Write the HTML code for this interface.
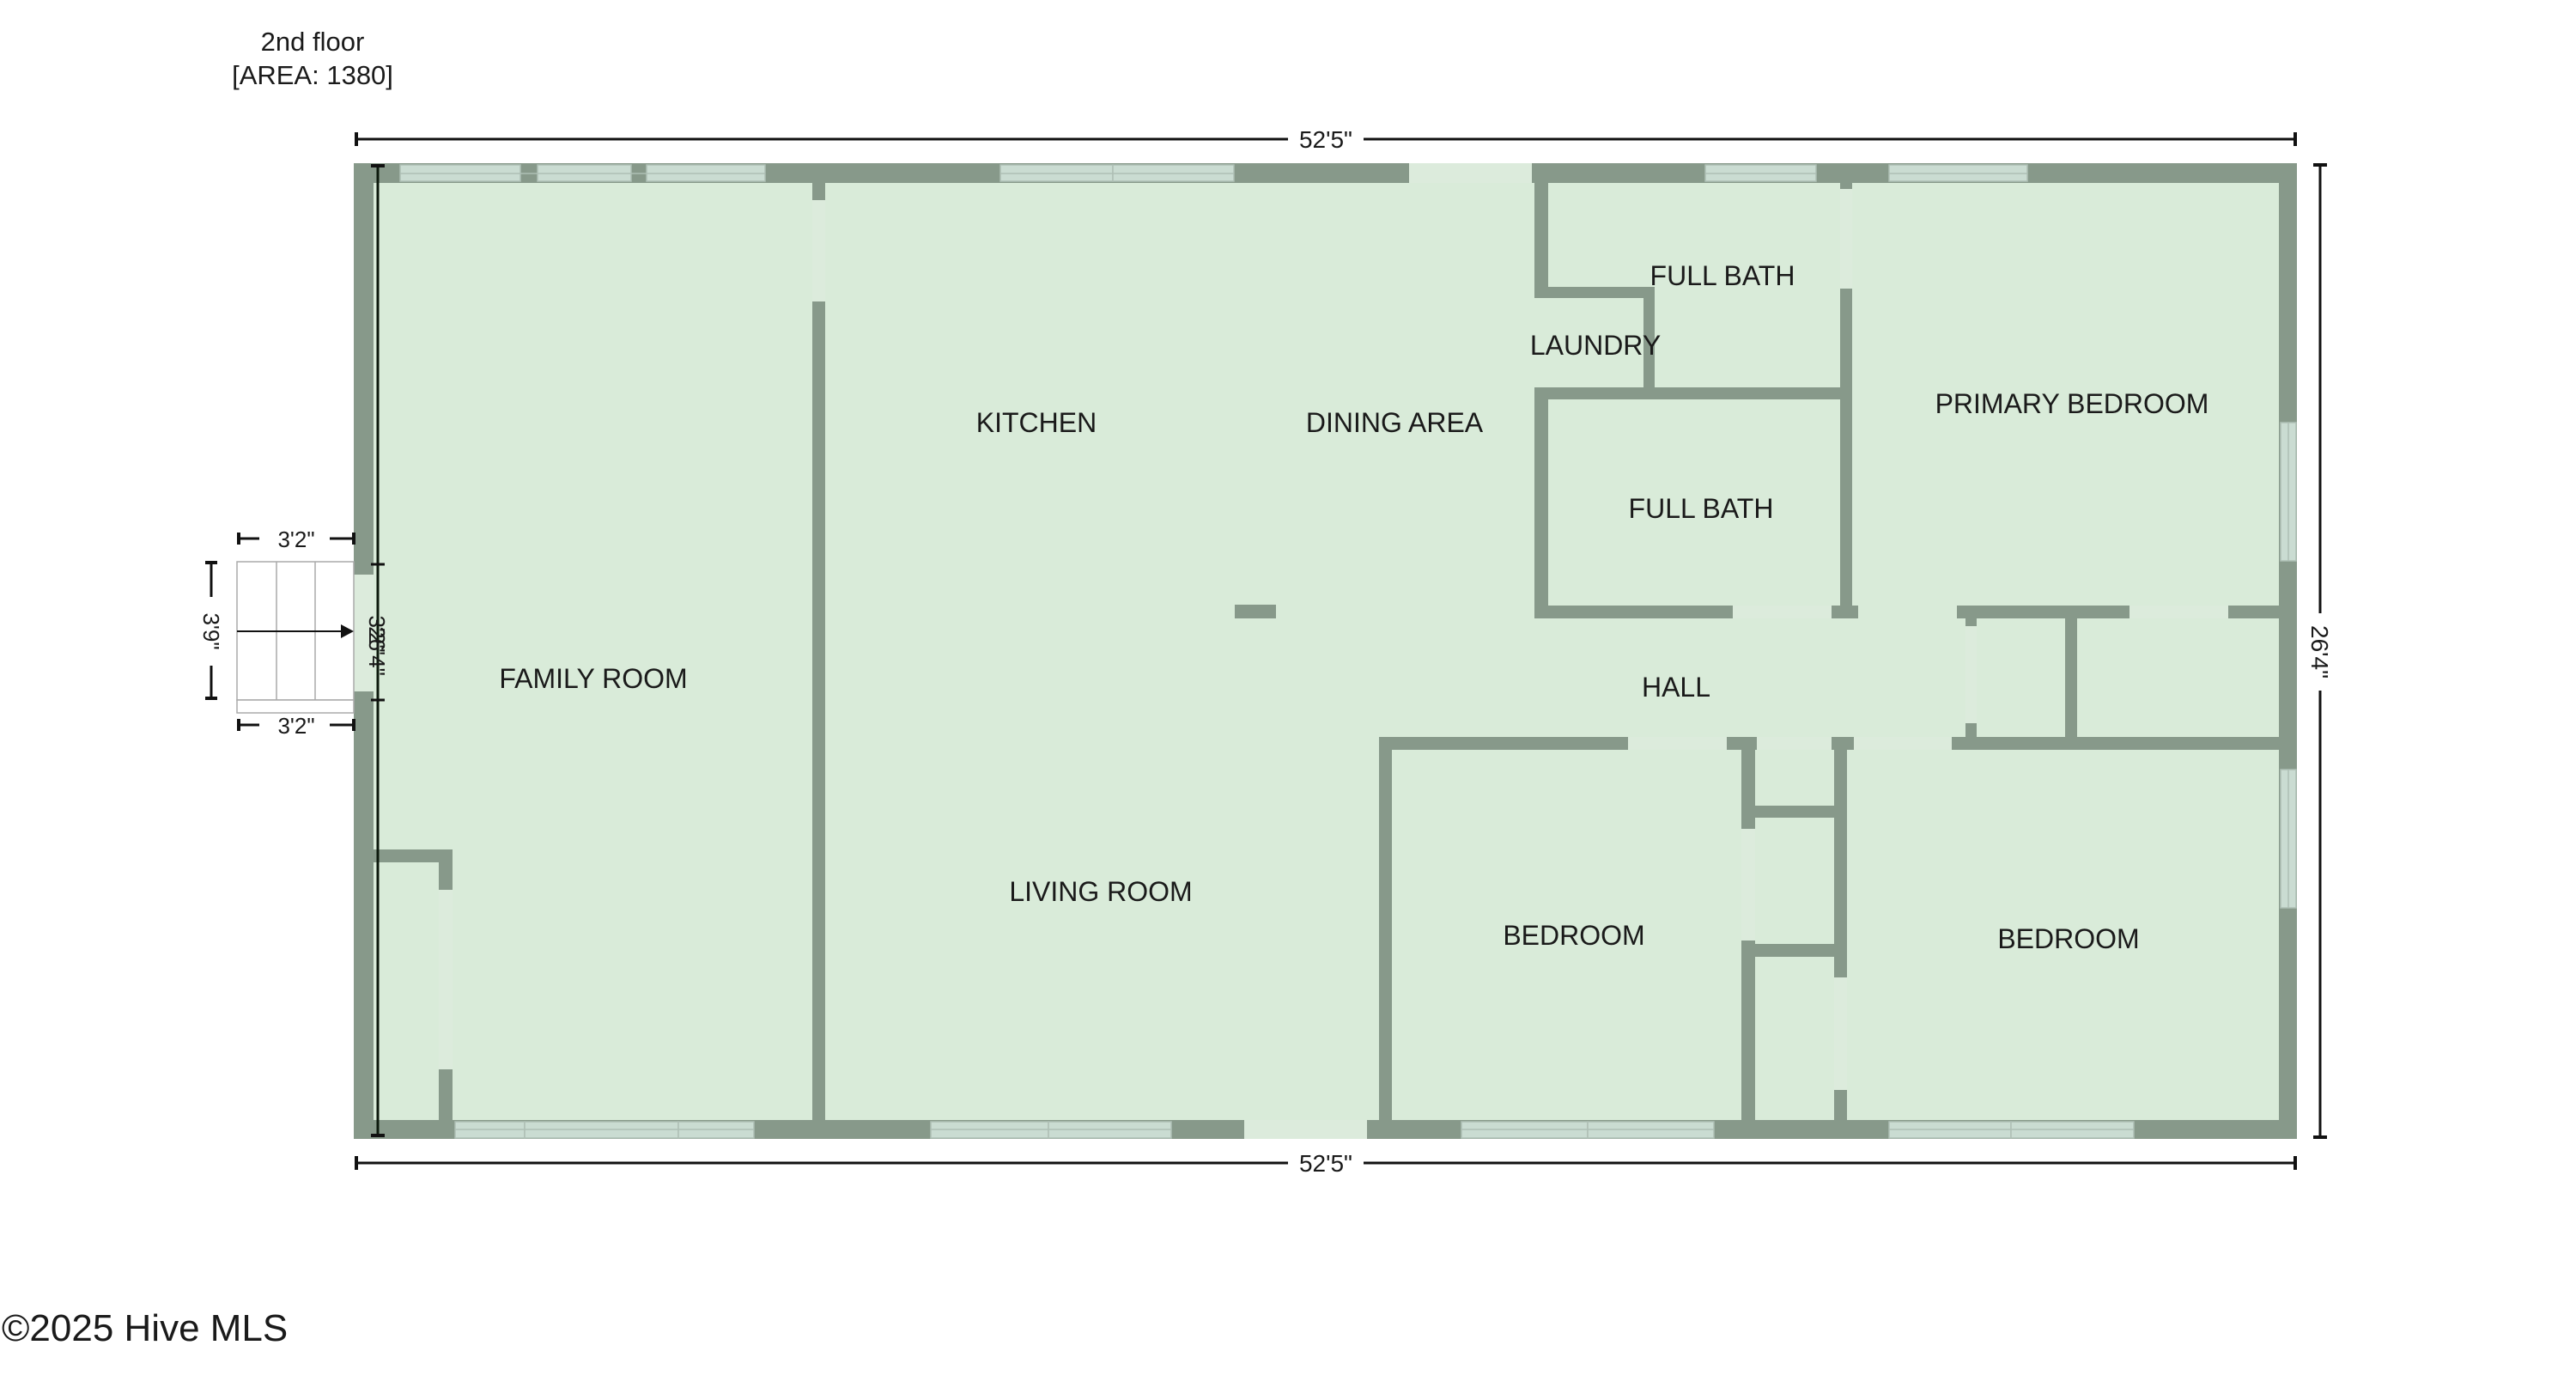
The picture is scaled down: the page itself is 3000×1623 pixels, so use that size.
<!DOCTYPE html>
<html><head><meta charset="utf-8"><style>
html,body{margin:0;padding:0;background:#fff;}
svg{display:block;}
text{font-family:"Liberation Sans",sans-serif;fill:#1a1a1a;}
</style></head><body>
<svg width="3000" height="1623" viewBox="0 0 3000 1623" xmlns="http://www.w3.org/2000/svg">
<text x="364" y="59" font-size="31" text-anchor="middle">2nd floor</text>
<text x="364" y="98" font-size="31" text-anchor="middle">[AREA: 1380]</text>

<line x1="415" y1="162" x2="2673" y2="162" stroke="#111" stroke-width="3"/>
<line x1="415" y1="154" x2="415" y2="170" stroke="#111" stroke-width="4"/>
<line x1="2673" y1="154" x2="2673" y2="170" stroke="#111" stroke-width="4"/>
<rect x="1500" y="145" width="88" height="34" fill="#fff"/>
<text x="1544" y="172" font-size="28" text-anchor="middle">52'5"</text>

<line x1="415" y1="1354" x2="2673" y2="1354" stroke="#111" stroke-width="3"/>
<line x1="415" y1="1346" x2="415" y2="1362" stroke="#111" stroke-width="4"/>
<line x1="2673" y1="1346" x2="2673" y2="1362" stroke="#111" stroke-width="4"/>
<rect x="1500" y="1337" width="88" height="34" fill="#fff"/>
<text x="1544" y="1364" font-size="28" text-anchor="middle">52'5"</text>

<line x1="2702" y1="192" x2="2702" y2="1324" stroke="#111" stroke-width="3"/>
<line x1="2694" y1="192" x2="2710" y2="192" stroke="#111" stroke-width="4"/>
<line x1="2694" y1="1324" x2="2710" y2="1324" stroke="#111" stroke-width="4"/>
<rect x="2685" y="714" width="34" height="90" fill="#fff"/>
<text x="0" y="0" font-size="28" text-anchor="middle" transform="translate(2692,759) rotate(90)">26'4"</text>

<rect x="412" y="190" width="2263" height="1136" fill="#87998a"/>
<rect x="435" y="213" width="2219" height="1091" fill="#d9ebd9"/>

<g fill="#87998a">
<rect x="946" y="213" width="15" height="1091"/>
<rect x="435" y="989" width="92" height="15"/>
<rect x="511" y="989" width="16" height="315"/>
<rect x="1438" y="704" width="48" height="16"/>
<rect x="1787" y="213" width="16" height="134"/>
<rect x="1787" y="334" width="140" height="13"/>
<rect x="1914" y="334" width="13" height="131"/>
<rect x="1787" y="451" width="370" height="14"/>
<rect x="1787" y="451" width="16" height="269"/>
<rect x="1787" y="705" width="231" height="15"/>
<rect x="2133" y="705" width="31" height="15"/>
<rect x="2143" y="213" width="14" height="507"/>
<rect x="2279" y="705" width="201" height="15"/>
<rect x="2595" y="705" width="59" height="15"/>
<rect x="2289" y="705" width="13" height="153"/>
<rect x="2405" y="720" width="14" height="153"/>
<rect x="1606" y="858" width="1048" height="15"/>
<rect x="1606" y="858" width="15" height="446"/>
<rect x="2028" y="858" width="16" height="446"/>
<rect x="2136" y="858" width="15" height="446"/>
<rect x="2028" y="938" width="123" height="14"/>
<rect x="2028" y="1099" width="123" height="15"/>
</g>

<g fill="#dcebdc">
<rect x="946" y="233" width="15" height="118"/>
<rect x="511" y="1036" width="16" height="209"/>
<rect x="2143" y="220" width="14" height="116"/>
<rect x="2289" y="729" width="13" height="113"/>
<rect x="1896" y="858" width="115" height="15"/>
<rect x="2046" y="858" width="87" height="15"/>
<rect x="2159" y="858" width="114" height="15"/>
<rect x="2028" y="965" width="16" height="130"/>
<rect x="2136" y="1138" width="15" height="131"/>
<rect x="2018" y="705" width="115" height="15"/>
<rect x="2480" y="705" width="115" height="15"/>
<rect x="1641" y="190" width="143" height="23"/>
<rect x="1449" y="1304" width="143" height="22"/>
<rect x="412" y="669" width="23" height="136"/>
</g>

<g fill="#cadcd2" stroke="#aebfb5" stroke-width="1.5">
<rect x="466" y="192" width="140" height="19"/>
<rect x="626" y="192" width="109" height="19"/>
<rect x="753" y="192" width="138" height="19"/>
<rect x="1165" y="192" width="131" height="19"/>
<rect x="1296" y="192" width="141" height="19"/>
<rect x="1986" y="192" width="129" height="19"/>
<rect x="2200" y="192" width="161" height="19"/>
<rect x="530" y="1306" width="81" height="19"/>
<rect x="611" y="1306" width="179" height="19"/>
<rect x="790" y="1306" width="88" height="19"/>
<rect x="1084" y="1306" width="137" height="19"/>
<rect x="1221" y="1306" width="143" height="19"/>
<rect x="1702" y="1306" width="147" height="19"/>
<rect x="1849" y="1306" width="147" height="19"/>
<rect x="2200" y="1306" width="142" height="19"/>
<rect x="2342" y="1306" width="143" height="19"/>
<rect x="2656" y="492" width="18" height="161"/>
<rect x="2656" y="896" width="18" height="161"/>
</g>
<g stroke="#aebfb5" stroke-width="1.5">
<line x1="466" y1="202" x2="891" y2="202"/><line x1="1165" y1="202" x2="1437" y2="202"/>
<line x1="1986" y1="202" x2="2115" y2="202"/><line x1="2200" y1="202" x2="2361" y2="202"/>
<line x1="530" y1="1315" x2="878" y2="1315"/><line x1="1084" y1="1315" x2="1364" y2="1315"/>
<line x1="1702" y1="1315" x2="1996" y2="1315"/><line x1="2200" y1="1315" x2="2485" y2="1315"/>
<line x1="2665" y1="492" x2="2665" y2="653"/><line x1="2665" y1="896" x2="2665" y2="1057"/>
</g>

<rect x="276" y="654" width="136" height="161" fill="#fff" stroke="#aaa" stroke-width="1.5"/>
<rect x="276" y="815" width="136" height="15" fill="#fff" stroke="#aaa" stroke-width="1.5"/>
<line x1="322" y1="654" x2="322" y2="815" stroke="#aaa" stroke-width="1.5"/>
<line x1="367" y1="654" x2="367" y2="815" stroke="#aaa" stroke-width="1.5"/>
<line x1="276" y1="735" x2="400" y2="735" stroke="#111" stroke-width="2"/>
<polygon points="397,727 412,735 397,743" fill="#111"/>

<line x1="278" y1="627" x2="302" y2="627" stroke="#111" stroke-width="3"/>
<line x1="384" y1="627" x2="412" y2="627" stroke="#111" stroke-width="3"/>
<line x1="278" y1="620" x2="278" y2="634" stroke="#111" stroke-width="4"/>
<line x1="412" y1="620" x2="412" y2="634" stroke="#111" stroke-width="4"/>
<text x="345" y="637" font-size="26" text-anchor="middle">3'2"</text>
<line x1="278" y1="844" x2="302" y2="844" stroke="#111" stroke-width="3"/>
<line x1="384" y1="844" x2="412" y2="844" stroke="#111" stroke-width="3"/>
<line x1="278" y1="837" x2="278" y2="851" stroke="#111" stroke-width="4"/>
<line x1="412" y1="837" x2="412" y2="851" stroke="#111" stroke-width="4"/>
<text x="345" y="854" font-size="26" text-anchor="middle">3'2"</text>
<line x1="246" y1="655" x2="246" y2="695" stroke="#111" stroke-width="3"/>
<line x1="246" y1="775" x2="246" y2="813" stroke="#111" stroke-width="3"/>
<line x1="239" y1="655" x2="253" y2="655" stroke="#111" stroke-width="4"/>
<line x1="239" y1="813" x2="253" y2="813" stroke="#111" stroke-width="4"/>
<text x="0" y="0" font-size="26" text-anchor="middle" transform="translate(237,735) rotate(90)">3'9"</text>

<line x1="440" y1="192" x2="440" y2="1324" stroke="#0d1a0d" stroke-width="3"/>
<line x1="432" y1="193" x2="448" y2="193" stroke="#111" stroke-width="4"/>
<line x1="432" y1="1322" x2="448" y2="1322" stroke="#111" stroke-width="4"/>
<line x1="432" y1="657" x2="448" y2="657" stroke="#111" stroke-width="3"/>
<line x1="432" y1="815" x2="448" y2="815" stroke="#111" stroke-width="3"/>
<text x="0" y="0" font-size="26" text-anchor="middle" transform="translate(430,738) rotate(90)">3'2"</text>
<text x="0" y="0" font-size="26" text-anchor="middle" transform="translate(430,758) rotate(90)">26'4"</text>

<g font-size="32" text-anchor="middle">
<text x="691" y="801">FAMILY ROOM</text>
<text x="1207" y="503">KITCHEN</text>
<text x="1624" y="503">DINING AREA</text>
<text x="1282" y="1049">LIVING ROOM</text>
<text x="2006" y="332">FULL BATH</text>
<text x="1858" y="413">LAUNDRY</text>
<text x="1981" y="603">FULL BATH</text>
<text x="2413" y="481">PRIMARY BEDROOM</text>
<text x="1952" y="811">HALL</text>
<text x="1833" y="1100">BEDROOM</text>
<text x="2409" y="1104">BEDROOM</text>
</g>

<text x="2" y="1561" font-size="44" fill="#222">©2025 Hive MLS</text>
</svg>
</body></html>
